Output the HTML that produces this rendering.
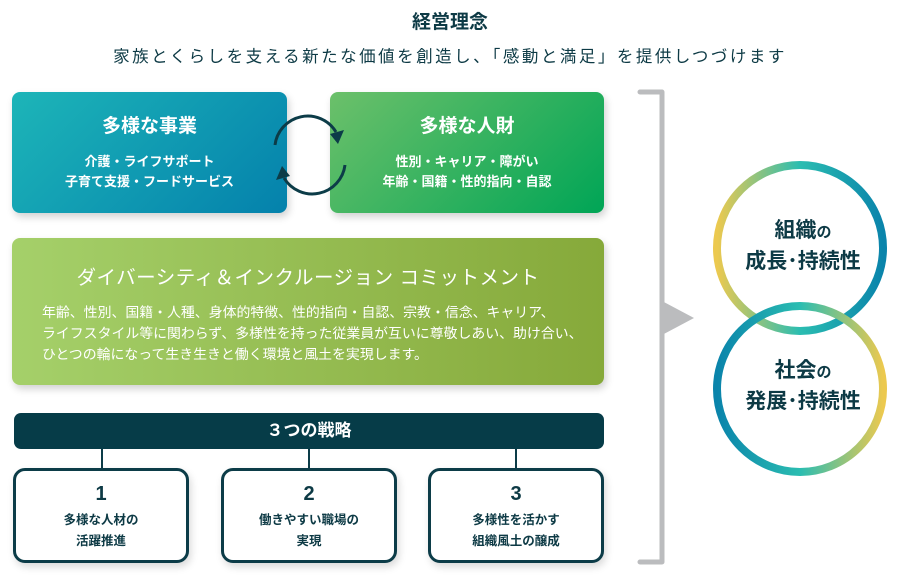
<!DOCTYPE html>
<html><head><meta charset="utf-8"><style>
*{margin:0;padding:0;box-sizing:border-box}
body{width:900px;height:588px;background:#fff;position:relative;overflow:hidden;font-family:"Liberation Sans","Noto Sans CJK JP",sans-serif;color:#0d3a45}
.a{position:absolute}
.t{text-align:center;font-weight:bold}
.box{position:absolute;border-radius:8px;box-shadow:2px 4px 8px rgba(0,0,0,0.18);color:#fff}
.sb{position:absolute;top:468px;width:176px;height:95px;border:3px solid #0c3c48;border-radius:12px;background:#fff;box-shadow:2px 4px 8px rgba(0,0,0,0.15);text-align:center;font-weight:bold;color:#0d3a45}
.sb .n{font-size:20px;margin-top:12px;line-height:22px}
.sb .d{font-size:12.5px;line-height:21px;margin-top:5px}
.ln{position:absolute;top:449px;width:2px;height:20px;background:#0c3c48}
</style></head><body>
<div class="a t" style="left:0;width:900px;top:7px;font-size:19px;">経営理念</div>
<div class="a t" style="left:0;width:900px;top:43px;font-size:16.5px;font-weight:normal;letter-spacing:2.5px">家族とくらしを支える新たな価値を創造し、「感動と満足」を提供しつづけます</div>

<div class="box t" style="left:12px;top:92px;width:275px;height:121px;background:linear-gradient(135deg,#1db5b8,#0481ac)">
<div style="font-size:19px;margin-top:19px">多様な事業</div>
<div style="font-size:13px;line-height:20px;margin-top:14px">介護・ライフサポート<br>子育て支援・フードサービス</div></div>
<div class="box t" style="left:330px;top:92px;width:274px;height:121px;background:linear-gradient(135deg,#6cc06a,#00a556)">
<div style="font-size:19px;margin-top:19px">多様な人財</div>
<div style="font-size:13px;line-height:20px;margin-top:14px">性別・キャリア・障がい<br>年齢・国籍・性的指向・自認</div></div>

<svg class="a" style="left:270px;top:110px" width="80" height="90" viewBox="0 0 80 90">
<path d="M5 35 A33 33 0 0 1 66 22" fill="none" stroke="#0c3c48" stroke-width="3"/>
<polygon points="60,24 74,20 68,34" fill="#0c3c48"/>
<path d="M75 55 A33 33 0 0 1 14 68" fill="none" stroke="#0c3c48" stroke-width="3"/>
<polygon points="20,66 6,70 12,56" fill="#0c3c48"/>
</svg>

<div class="box" style="left:12px;top:238px;width:592px;height:147px;background:linear-gradient(90deg,#a5d06a,#86a93a)">
<div class="t" style="font-size:19.5px;margin-top:23px;font-weight:normal;letter-spacing:0.5px">ダイバーシティ＆インクルージョン コミットメント</div>
<div style="font-size:13.9px;line-height:21px;margin:12px 0 0 30px;white-space:nowrap">年齢、性別、国籍・人種、身体的特徴、性的指向・自認、宗教・信念、キャリア、<br>ライフスタイル等に関わらず、多様性を持った従業員が互いに尊敬しあい、助け合い、<br>ひとつの輪になって生き生きと働く環境と風土を実現します。</div></div>

<div class="a t" style="left:14px;top:413px;width:590px;height:36px;background:#063c48;border-radius:7px;color:#fff;font-size:17px;line-height:36px">３つの戦略</div>
<div class="ln" style="left:101px"></div><div class="ln" style="left:308px"></div><div class="ln" style="left:515px"></div>
<div class="sb" style="left:13px"><div class="n">1</div><div class="d">多様な人材の<br>活躍推進</div></div>
<div class="sb" style="left:221px"><div class="n">2</div><div class="d">働きやすい職場の<br>実現</div></div>
<div class="sb" style="left:428px"><div class="n">3</div><div class="d">多様性を活かす<br>組織風土の醸成</div></div>

<svg class="a" style="left:630px;top:85px" width="270" height="490" viewBox="630 85 270 490">
<defs>
<linearGradient id="g1" x1="0" y1="0" x2="1" y2="0"><stop offset="0" stop-color="#ecc94f"/><stop offset="0.5" stop-color="#2bbdb1"/><stop offset="1" stop-color="#0a84ab"/></linearGradient>
<linearGradient id="g2" x1="0" y1="0" x2="1" y2="0"><stop offset="0" stop-color="#0a84ab"/><stop offset="0.5" stop-color="#2bbdb1"/><stop offset="1" stop-color="#ecc94f"/></linearGradient>
</defs>
<path d="M640 92 H662 V562 H640" fill="none" stroke="#bbbcbe" stroke-width="5" stroke-linejoin="round" stroke-linecap="round"/>
<polygon points="662,301 694,318 662,335" fill="#bbbcbe"/>
<circle cx="800" cy="248" r="83" fill="none" stroke="url(#g1)" stroke-width="8"/>
<circle cx="800" cy="389" r="83" fill="none" stroke="url(#g2)" stroke-width="8"/>
<text x="803" y="237" text-anchor="middle" font-size="21" font-weight="bold" fill="#0d3a45" font-family="Liberation Sans,Noto Sans CJK JP,sans-serif">組織<tspan font-size="15">の</tspan></text>
<text x="803" y="268" text-anchor="middle" font-size="21" font-weight="bold" fill="#0d3a45" font-family="Liberation Sans,Noto Sans CJK JP,sans-serif">成長･持続性</text>
<text x="803" y="377" text-anchor="middle" font-size="21" font-weight="bold" fill="#0d3a45" font-family="Liberation Sans,Noto Sans CJK JP,sans-serif">社会<tspan font-size="15">の</tspan></text>
<text x="803" y="408" text-anchor="middle" font-size="21" font-weight="bold" fill="#0d3a45" font-family="Liberation Sans,Noto Sans CJK JP,sans-serif">発展･持続性</text>
</svg>
</body></html>
